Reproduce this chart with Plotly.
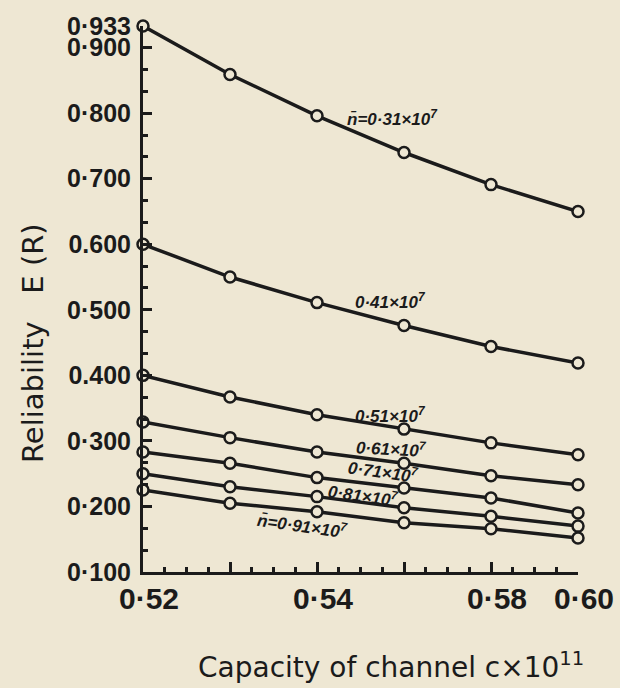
import plotly.graph_objects as go

# Capacity of channel positions (equally spaced on the chart), labelled subset
x_pos = [0, 1, 2, 3, 4, 5]
x_tick_vals = [0, 1, 2, 3, 4, 5]
x_tick_text = ["0·52", "", "0·54", "", "0·58", "0·60"]

y_tick_vals = [0.1, 0.2, 0.3, 0.4, 0.5, 0.6, 0.7, 0.8, 0.9, 0.933]
y_tick_text = ["0·100", "0·200", "0·300", "0.400", "0·500", "0.600", "0·700", "0·800", "0·900", "0·933"]

# Reliability E(R) for each value of n
r_031 = [0.933, 0.859, 0.796, 0.740, 0.691, 0.650]
r_041 = [0.600, 0.550, 0.511, 0.476, 0.444, 0.419]
r_051 = [0.400, 0.367, 0.340, 0.318, 0.297, 0.279]
r_061 = [0.329, 0.305, 0.283, 0.266, 0.247, 0.233]
r_071 = [0.283, 0.266, 0.244, 0.228, 0.213, 0.190]
r_081 = [0.250, 0.230, 0.215, 0.198, 0.185, 0.170]
r_091 = [0.225, 0.205, 0.192, 0.175, 0.166, 0.152]

series = [r_031, r_041, r_051, r_061, r_071, r_081, r_091]

line_labels = ["n̄=0·31×10<sup>7</sup>", "0·41×10<sup>7</sup>", "0·51×10<sup>7</sup>",
               "0·61×10<sup>7</sup>", "0·71×10<sup>7</sup>", "0·81×10<sup>7</sup>",
               "n̄=0·91×10<sup>7</sup>"]
label_x = [2.87, 2.84, 2.84, 2.86, 2.76, 2.54, 1.83]
label_y = [0.792, 0.514, 0.340, 0.289, 0.254, 0.218, 0.172]
label_angle = [0, 0, 0, 3, 8, 8, 8]

BG = "#EEE7D3"
INK = "#1b1b1b"
FONT = "Liberation Sans"
TFONT = "DejaVu Sans"

W, H = 620, 688
ML, MR, MT, MB = 143, 42, 26, 116

fig = go.Figure()
for ys in series:
    fig.add_trace(go.Scatter(
        x=x_pos, y=ys, mode="lines+markers",
        line=dict(color=INK, width=3.5),
        marker=dict(symbol="circle", size=11, color=BG, line=dict(color=INK, width=2.5)),
        cliponaxis=False, showlegend=False, hoverinfo="skip"))

for t, xx, yy, ang in zip(line_labels, label_x, label_y, label_angle):
    fig.add_annotation(x=xx, y=yy, xref="x", yref="y", text=t, showarrow=False,
                       textangle=ang, xanchor="center", yanchor="middle",
                       font=dict(family=FONT, size=17, color=INK, weight="bold", style="italic"))


def px_to_paper(px, py):
    return (px - ML) / (W - ML - MR), 1 - (py - MT) / (H - MT - MB)


yt_x, yt_y = px_to_paper(33, 343)
fig.add_annotation(x=yt_x, y=yt_y, xref="paper", yref="paper", text="Reliability   E (R)",
                   showarrow=False, textangle=-90, xanchor="center", yanchor="middle",
                   font=dict(family=TFONT, size=29, color=INK))
xt_x, xt_y = px_to_paper(391, 665)
fig.add_annotation(x=xt_x, y=xt_y, xref="paper", yref="paper",
                   text="Capacity of channel c×10<sup>11</sup>", showarrow=False,
                   xanchor="center", yanchor="middle",
                   font=dict(family=TFONT, size=28, color=INK))

fig.update_layout(
    width=W, height=H,
    margin=dict(l=ML, r=MR, t=MT, b=MB, autoexpand=False),
    paper_bgcolor=BG, plot_bgcolor=BG,
    font=dict(family=FONT, color=INK),
)
fig.update_xaxes(
    range=[0, 5], showgrid=False, zeroline=False, automargin=False,
    showline=True, linecolor=INK, linewidth=3,
    tickmode="array", tickvals=x_tick_vals, ticktext=x_tick_text,
    ticks="inside", ticklen=10, tickwidth=3, tickcolor=INK,
    ticklabelstandoff=-2, ticklabelshift=6,
    tickfont=dict(family=FONT, size=30, color=INK, weight="bold"),
    minor=dict(tickmode="linear", tick0=0, dtick=0.25, ticks="inside", ticklen=5,
               tickwidth=3, tickcolor=INK, showgrid=False),
)
fig.update_yaxes(
    range=[0.1, 0.933], showgrid=False, zeroline=False, automargin=False,
    showline=True, linecolor=INK, linewidth=3,
    tickmode="array", tickvals=y_tick_vals, ticktext=y_tick_text,
    ticks="inside", ticklen=9, tickwidth=3, tickcolor=INK,
    ticklabelstandoff=4,
    tickfont=dict(family=FONT, size=25, color=INK, weight="bold"),
    minor=dict(tickmode="linear", tick0=0.1, dtick=0.1 / 3, ticks="inside", ticklen=5,
               tickwidth=3, tickcolor=INK, showgrid=False),
)

fig.write_html("out.html")
